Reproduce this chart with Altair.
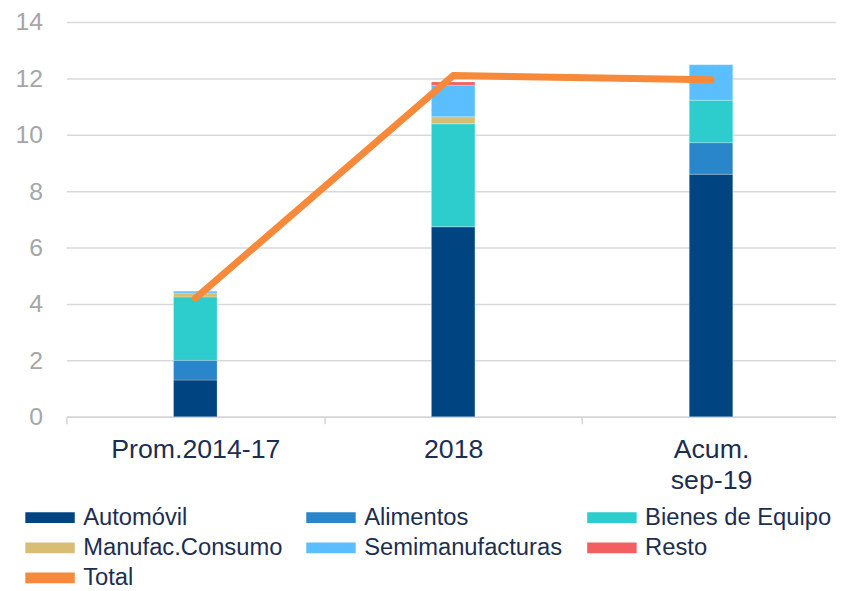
import altair as alt
import pandas as pd

categories = ["Prom.2014-17", "2018", "Acum.|sep-19"]
series = ["Automóvil", "Alimentos", "Bienes de Equipo", " Manufac.Consumo", "Semimanufacturas", "Resto"]
automovil = [1.30, 6.74, 8.60]
alimentos = [0.70, 0.00, 1.12]
bienes_equipo = [2.25, 3.65, 1.51]
manufac_consumo = [0.14, 0.25, 0.00]
semimanufacturas = [0.07, 1.12, 1.26]
resto = [0.00, 0.11, 0.00]
total = [4.20, 12.10, 11.95]

colors = ["#004481", "#2A86CA", "#2DCCCD", "#D8BE75", "#5BBEFF", "#F35E61", "#F7893B"]
domain = series + ["Total"]

vals = [automovil, alimentos, bienes_equipo, manufac_consumo, semimanufacturas, resto]
rows = []
for si, (s, v) in enumerate(zip(series, vals)):
    for c, x in zip(categories, v):
        rows.append({"cat": c, "serie": s, "valor": x, "orden": si})
bars_df = pd.DataFrame(rows)
line_df = pd.DataFrame({"cat": categories, "valor": total, "serie": ["Total"] * 3})

FONT = "Liberation Sans, Arial, sans-serif"
TXT = "#1c2e50"

color_scale = alt.Scale(domain=domain, range=colors)
legend = alt.Legend(
    title=None, orient="none", legendX=-43, legendY=489, columns=3,
    direction="horizontal",
    gridAlign="all", columnPadding=22, rowPadding=6.5, padding=0,
    symbolType="M-1,-0.52H3.76V0.52H-1Z", symbolSize=441, symbolStrokeWidth=0,
    symbolOpacity=1, labelFont=FONT, labelFontSize=24, labelColor=TXT,
    labelOffset=36, labelLimit=400,
)

x_enc = alt.X(
    "cat:N", sort=categories, title=None,
    scale=alt.Scale(paddingInner=0, paddingOuter=0, range=[0, 782]),
    axis=alt.Axis(
        labelAngle=0, labelFont=FONT, labelFontSize=27, labelColor=TXT,
        labelExpr="split(datum.label, '|')", labelLineHeight=32,
        labelPadding=13, tickBand="extent", tickSize=7, tickColor="#d4d4d4",
        tickWidth=1.5, domainColor="#d4d4d4", domainWidth=1.5, grid=False,
    ),
)
y_scale = alt.Scale(domain=[0, 14], nice=False)
y_axis = alt.Axis(
    values=list(range(0, 15, 2)), title=None, domain=False, ticks=False,
    labelFont=FONT, labelFontSize=25, labelColor="#a6a6a6", labelPadding=24,
    gridColor="#d9d9d9", gridWidth=1.5,
)

bars = alt.Chart(bars_df).mark_bar(size=44, stroke="#ffffff", strokeWidth=0.4, strokeOpacity=0.6).encode(
    x=x_enc,
    y=alt.Y("sum(valor):Q", scale=y_scale, axis=y_axis, stack="zero"),
    color=alt.Color("serie:N", scale=color_scale, legend=legend),
    order=alt.Order("orden:Q", sort="ascending"),
)

line = alt.Chart(line_df).mark_line(strokeWidth=7, strokeCap="round", strokeJoin="round").encode(
    x=alt.X("cat:N", sort=categories),
    y=alt.Y("valor:Q", scale=y_scale),
    color=alt.Color("serie:N", scale=color_scale, legend=legend),
)

chart = alt.layer(bars, line).properties(
    width=778, height=399,
    padding={"left": 59, "top": 11, "right": 0, "bottom": 173},
    autosize="none",
).configure_view(stroke=None)

chart.save("out.html", embed_options={"renderer": "svg", "actions": False})
